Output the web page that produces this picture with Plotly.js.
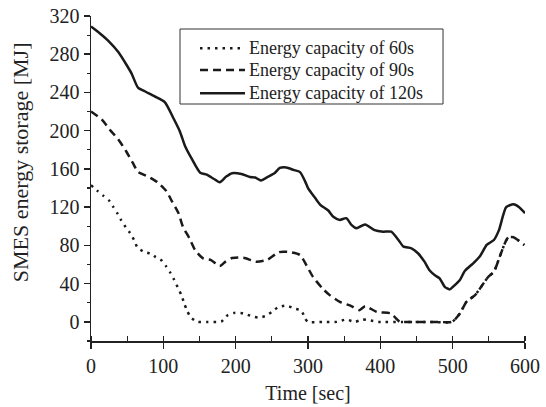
<!DOCTYPE html>
<html>
<head>
<meta charset="utf-8">
<script src="https://cdn.plot.ly/plotly-3.0.1.min.js"></script>
<style>html,body{margin:0;padding:0;background:#fff;}#chart{width:546px;height:407px;}</style>
</head>
<body>
<div id="chart"></div>
<script>
// Energy capacity of 120s (solid)
var x120 = [0, 12, 24, 38, 49, 56, 65, 75, 88, 102, 114, 123, 130, 139, 151, 160, 169, 178, 187, 195, 208, 220, 227, 235, 245, 254, 261, 270, 280, 289, 296, 300, 310, 317, 328, 335, 344, 353, 360, 367, 379, 392, 404, 415, 425, 432, 443, 452, 461, 468, 475, 482, 489, 496, 503, 510, 517, 528, 538, 547, 557, 564, 574, 584, 592, 600];
var y120 = [309, 302, 294, 282, 269, 260, 245, 241, 236, 230, 213, 199, 184, 171, 156, 154, 150, 146, 152, 155.5, 154.7, 151.5, 151, 148, 152, 155.7, 161, 161.6, 159, 156.7, 147, 140, 129.5, 122.5, 116.5, 110, 106.7, 108.5, 101.5, 98, 102, 96, 94.4, 94.4, 85.7, 78.7, 77, 71.8, 63, 54, 49, 45.5, 36.7, 34, 38.5, 43.8, 53.5, 61, 69, 80.5, 85.7, 96, 120, 123, 120, 113.7];

// Energy capacity of 90s (dashed)
var x90 = [0, 15, 26, 38, 49, 58, 65, 79, 92, 104, 112, 121, 127, 136, 144, 155, 166, 178, 186, 195, 211, 228, 244, 260, 275, 289, 298, 307, 320, 330, 344, 360, 371, 379, 395, 415, 420, 427, 440, 460, 480, 499, 510, 519, 531, 549, 557, 565, 572, 577, 584, 599];
var y90 = [220, 211.6, 201, 190.6, 178, 166, 157, 152, 146, 137, 126, 113.7, 99.7, 87.5, 75, 66.5, 64.7, 58.4, 63, 66.8, 67, 63, 65, 73, 73, 70, 59, 47, 35, 28, 21, 16.5, 12.3, 16.4, 10.5, 8.8, 5, 0, 0, 0, 0, 0, 8.8, 21, 28, 47, 52.5, 68, 82, 88.6, 88.6, 80.5];

// Energy capacity of 60s (dotted)
var x60 = [0, 9, 17, 25, 31, 37, 42, 48, 54, 60, 64, 74, 84, 89, 98, 104, 110, 115, 120, 125, 129, 133, 138, 147, 161, 175, 181, 189, 198, 211, 222, 231, 241, 250, 258, 270, 281, 291, 296, 300, 320, 340, 353, 365, 375, 384, 398, 430, 470, 499, 510, 519, 531, 549, 557, 565, 572, 577, 584, 599];
var y60 = [143, 137, 132, 127, 120, 113, 106, 99, 93, 85, 78, 73, 71, 68, 64, 58, 51, 44, 36, 28, 19, 11.5, 4.6, 0, 0, 0, 0.7, 7, 9.4, 8.8, 6, 4.6, 6, 10.5, 15, 17, 14, 11.5, 3.6, 0, 0, 0, 2.5, 0, 2.5, 1.8, 0, 0, 0, 0, 8.8, 21, 28, 47, 52.5, 68, 82, 88.6, 88.6, 80.5];

var names = ['Energy capacity of 60s', 'Energy capacity of 90s', 'Energy capacity of 120s'];
var dashes = ['2.5px,5px', '8px,5px', 'solid'];

var ink = '#1a1a1a';
var txt = '#222';
var fnt = 'Liberation Serif, Times New Roman, serif';

var traces = [
  {x: x60, y: y60, name: names[0], mode: 'lines', line: {color: ink, width: 2.5, dash: dashes[0], shape: 'spline', smoothing: 0.6}},
  {x: x90, y: y90, name: names[1], mode: 'lines', line: {color: ink, width: 2.5, dash: dashes[1], shape: 'spline', smoothing: 0.6}},
  {x: x120, y: y120, name: names[2], mode: 'lines', line: {color: ink, width: 2.5, dash: dashes[2], shape: 'spline', smoothing: 0.6}}
];

// Hand-drawn legend (box, sample lines, labels) in paper coordinates
var legRows = [0.9006, 0.8338, 0.7622];
var shapes = [{type: 'rect', xref: 'paper', yref: 'paper', x0: 0.2051, x1: 0.8111, y0: 0.7292, y1: 0.96,
               line: {color: '#333', width: 1}, fillcolor: '#fff', layer: 'above'}];
var annotations = [];
for (var i = 0; i < names.length; i++) {
  shapes.push({type: 'line', xref: 'paper', yref: 'paper', x0: 0.2512, x1: 0.3548, y0: legRows[i], y1: legRows[i],
               line: {color: ink, width: 2.5, dash: dashes[i]}, layer: 'above'});
  annotations.push({xref: 'paper', yref: 'paper', x: 0.3594, y: legRows[i], xanchor: 'left', yanchor: 'middle',
                    text: names[i], showarrow: false, font: {family: fnt, size: 18, color: txt}});
}
annotations.push({xref: 'paper', yref: 'paper', x: -0.1636, y: 0.55, xanchor: 'center', yanchor: 'middle',
                  textangle: -90, text: 'SMES energy storage [MJ]', showarrow: false,
                  font: {family: fnt, size: 22, color: txt}});

var layout = {
  width: 546, height: 407,
  margin: {l: 91, r: 21, t: 16, b: 66, pad: 0},
  paper_bgcolor: '#fff', plot_bgcolor: '#fff',
  font: {family: fnt, size: 20, color: txt},
  showlegend: false,
  shapes: shapes,
  annotations: annotations,
  xaxis: {
    range: [0, 600], tickvals: [0, 100, 200, 300, 400, 500, 600],
    showline: true, linecolor: '#222', linewidth: 1.5, showgrid: false, zeroline: false,
    ticks: 'outside', ticklen: 6, tickwidth: 1.5, tickcolor: '#222',
    minor: {dtick: 50, tick0: 0, ticks: 'inside', ticklen: 5, tickwidth: 1.2, tickcolor: '#222', showgrid: false},
    tickfont: {family: fnt, size: 20, color: txt},
    title: {text: 'Time [sec]', font: {family: fnt, size: 20, color: txt}, standoff: 10}
  },
  yaxis: {
    range: [-20, 320], tick0: 0, dtick: 40,
    showline: true, linecolor: '#222', linewidth: 1.5, showgrid: false, zeroline: false,
    ticks: 'outside', ticklen: 6, tickwidth: 1.5, tickcolor: '#222',
    minor: {dtick: 20, tick0: 0, ticks: 'outside', ticklen: 3, tickwidth: 1.2, tickcolor: '#222', showgrid: false},
    tickfont: {family: fnt, size: 20, color: txt}
  }
};

Plotly.newPlot('chart', traces, layout, {displayModeBar: false, staticPlot: true});
</script>
</body>
</html>
